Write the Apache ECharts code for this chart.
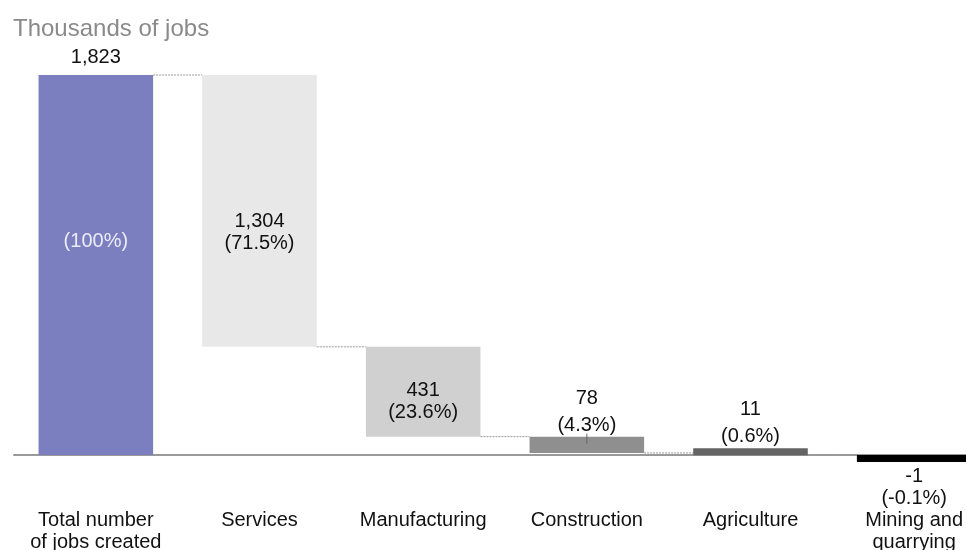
<!DOCTYPE html>
<html>
<head>
<meta charset="utf-8">
<script src="https://cdn.jsdelivr.net/npm/echarts@6/dist/echarts.min.js"></script>
<style>html,body{margin:0;padding:0;background:#fff;}#c{width:966px;height:550px;}</style>
</head>
<body>
<div id="c"></div>
<script>
var categories = ['Total number\nof jobs created', 'Services', 'Manufacturing', 'Construction', 'Agriculture', 'Mining and\nquarrying'];
var values = [1823, 1304, 431, 78, 11, -1];
var shares = [100, 71.5, 23.6, 4.3, 0.6, -0.1];
var barColors = ['#7b7fbf', '#e8e8e8', '#d0d0d0', '#8f8f8f', '#646464', '#000000'];

// waterfall: compute low/high for each bar
var lows = [], highs = [], ends = [];
var running = 0;
values.forEach(function (v, i) {
  if (i === 0) { lows.push(0); highs.push(v); running = v; }
  else {
    var prev = running;
    running = prev - v;
    lows.push(Math.min(prev, running));
    highs.push(Math.max(prev, running));
  }
  ends.push(running);
});

function fmt(n) { return n.toLocaleString('en-US'); }

var FONT = '"Liberation Sans", Arial, Helvetica, sans-serif';
// label vertical shift (px) relative to bar centre for inside labels
var insideShift = [-24, 22, 10];

var chart = echarts.init(document.getElementById('c'));
chart.setOption({
  animation: false,
  title: {
    text: 'Thousands of jobs', left: 8, top: 12,
    textStyle: { fontFamily: FONT, fontSize: 24, fontWeight: 'normal', color: '#8a8a8a' }
  },
  grid: { left: 14, right: -30, top: 75, bottom: 95, outerBoundsMode: 'none', containLabel: false },
  xAxis: {
    type: 'category', data: categories,
    axisLine: { show: true, lineStyle: { color: '#999', width: 2 } },
    axisTick: { show: false },
    axisLabel: { interval: 0, margin: 54, fontFamily: FONT, fontSize: 20, color: '#111', lineHeight: 22 }
  },
  yAxis: { type: 'value', min: 0, max: 1823, show: false, splitLine: { show: false } },
  series: [{
    type: 'custom',
    clip: false,
    data: values.map(function (v, i) { return [i, lows[i], highs[i], v, shares[i], ends[i]]; }),
    encode: { x: 0, y: [1, 2] },
    z: 1,
    renderItem: function (params, api) {
      var i = api.value(0);
      var low = api.value(1), high = api.value(2), v = api.value(3), sh = api.value(4), end = api.value(5);
      var step = api.size([1, 0])[0];
      var bw = step * 0.7;
      var cx = api.coord([i, 0])[0];
      var yTop = api.coord([i, high])[1];
      var yBot = api.coord([i, low])[1];
      var minH = 7;
      if (v < 0) {
        if (yBot - yTop < minH) yBot = yTop + minH;
      } else if (yBot - yTop < minH) {
        yTop = yBot - minH;
      }
      var children = [];
      children.push({
        type: 'rect',
        shape: { x: cx - bw / 2, y: yTop, width: bw, height: yBot - yTop },
        style: { fill: barColors[i] }
      });
      if (i < values.length - 1) {
        var yc = api.coord([i, end])[1];
        children.push({
          type: 'line',
          shape: { x1: cx + bw / 2, y1: yc, x2: cx + step - bw / 2, y2: yc },
          style: { stroke: '#999', lineWidth: 1, lineDash: [2, 1] }
        });
      }
      var valTxt = fmt(v);
      var shTxt = '(' + sh.toFixed(1).replace(/\.0$/, '') + '%)';
      var ts = { fontFamily: FONT, fontSize: 20, lineHeight: 22, fill: '#111', align: 'center' };
      var h = yBot - yTop;
      var mid = (yTop + yBot) / 2;
      if (i === 0) {
        children.push({ type: 'text', x: cx, y: yTop - 7, style: Object.assign({}, ts, { text: valTxt, verticalAlign: 'bottom' }) });
        children.push({ type: 'text', x: cx, y: mid + insideShift[0], style: Object.assign({}, ts, { text: shTxt, verticalAlign: 'middle', fill: '#ececf6' }) });
      } else if (h > 60) {
        children.push({ type: 'text', x: cx, y: mid + insideShift[i], style: Object.assign({}, ts, { text: valTxt + '\n' + shTxt, verticalAlign: 'middle' }) });
      } else if (v > 0) {
        children.push({ type: 'text', x: cx, y: yTop + 2, style: Object.assign({}, ts, { text: valTxt + '\n' + shTxt, lineHeight: 27, verticalAlign: 'bottom' }) });
        if (i === 3) {
          children.push({ type: 'line', shape: { x1: cx, y1: yTop - 3, x2: cx, y2: yTop + 7 }, style: { stroke: '#666', lineWidth: 1 } });
        }
      } else {
        children.push({ type: 'text', x: cx, y: yBot + 3, style: Object.assign({}, ts, { text: valTxt + '\n' + shTxt, verticalAlign: 'top' }) });
      }
      return { type: 'group', children: children };
    }
  }]
});
</script>
</body>
</html>
